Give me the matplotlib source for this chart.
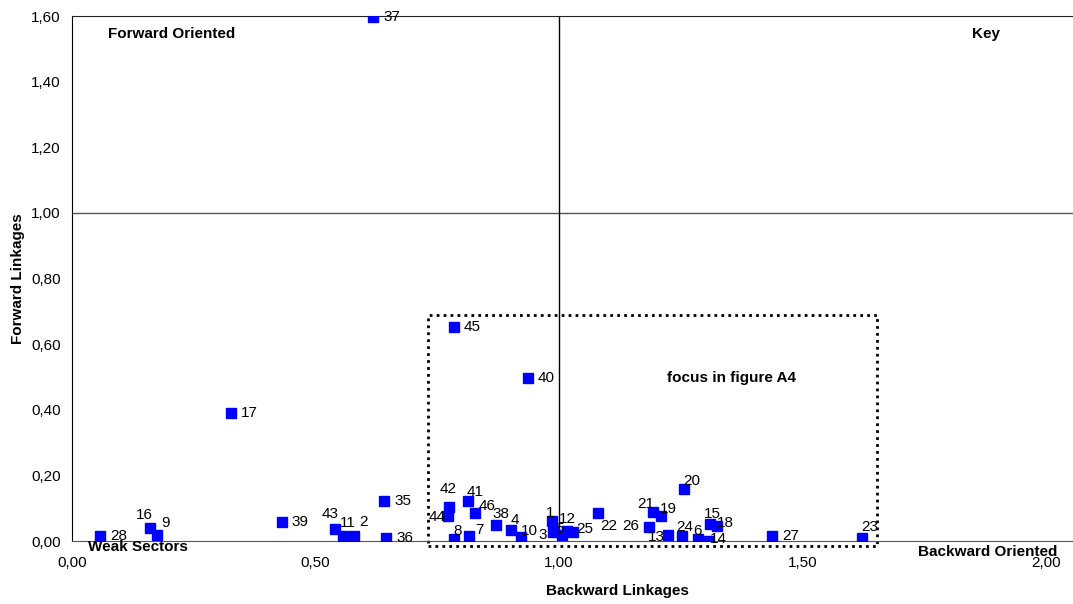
import matplotlib.pyplot as plt
from matplotlib.patches import Rectangle
from matplotlib.ticker import FuncFormatter

plt.rcParams['font.family'] = ['Liberation Sans', 'DejaVu Sans']

# sector numbers and linkage indices
sectors = [37, 17, 45, 40, 20, 35, 39, 28, 16, 9, 43, 11, 2, 36,
           42, 44, 41, 46, 8, 7, 38, 4, 10, 1, 3, 5, 12, 25, 22,
           26, 21, 19, 13, 24, 6, 14, 15, 18, 27, 23]
backward = [0.618, 0.326, 0.784, 0.936, 1.257, 0.641, 0.431, 0.057, 0.160, 0.175,
            0.540, 0.556, 0.579, 0.645, 0.774, 0.772, 0.812, 0.828, 0.785, 0.816,
            0.871, 0.901, 0.922, 0.985, 0.987, 1.006, 1.016, 1.029, 1.079, 1.185,
            1.192, 1.209, 1.224, 1.253, 1.285, 1.305, 1.310, 1.325, 1.438, 1.622]
forward = [1.598, 0.390, 0.652, 0.497, 0.160, 0.122, 0.058, 0.015, 0.040, 0.018,
           0.037, 0.015, 0.015, 0.009, 0.104, 0.076, 0.123, 0.084, 0.007, 0.015,
           0.049, 0.034, 0.011, 0.062, 0.027, 0.018, 0.030, 0.027, 0.084, 0.042,
           0.089, 0.076, 0.018, 0.016, 0.006, 0.001, 0.051, 0.046, 0.016, 0.010]

# label centre offsets in pixels (x right, y down); others go to the right
label_shift = {16: (-6, -13), 9: (8, -12), 43: (-5, -15), 11: (5, -13), 2: (9, -14),
               42: (-1, -18), 44: (-11, 1), 41: (8, -9), 46: (12, -7), 8: (3, -8),
               7: (10, -6), 38: (5, -11), 4: (4, -10), 10: (8, -6), 1: (-2, -8),
               3: (-10, 3), 5: (-2, -6), 12: (0, -12), 25: (12, -3), 22: (11, 13),
               26: (-18, -1), 21: (-7, -8), 19: (7, -7), 20: (7, -8), 13: (-12, 2),
               24: (2, -9), 6: (0, -8), 14: (11, -2), 15: (2, -10), 18: (8, -3),
               23: (8, -11)}

fig = plt.figure(figsize=(10.73, 6.04), dpi=100)
ax = fig.add_axes([0.0671, 0.1043, 0.9329, 0.8692])

ax.plot(backward, forward, 's', color='#0000ff', markersize=7.5, zorder=5)

px = 0.72  # pixels -> points at 100 dpi
for s, x, y in zip(sectors, backward, forward):
    if s in label_shift:
        dx, dy = label_shift[s]
        ax.annotate(str(s), (x, y), xytext=(dx * px, -dy * px), textcoords='offset points',
                    ha='center', va='center', fontsize=11, zorder=6)
    else:
        ax.annotate(str(s), (x, y), xytext=(10 * px, 0), textcoords='offset points',
                    ha='left', va='center', fontsize=11, zorder=6)

ax.set_xlim(0, 2.055)
ax.set_ylim(0, 1.6)
ax.axhline(1.0, color='#555555', lw=1, zorder=1)
ax.axvline(1.0, color='black', lw=1, zorder=1)

# dotted focus box
ax.add_patch(Rectangle((0.731, -0.015), 0.922, 0.704, fill=False, ls=(0, (1, 1.5)),
                       lw=2, ec='black', clip_on=False, zorder=2))

ax.text(0.074, 1.545, 'Forward Oriented', fontsize=11, fontweight='bold', va='center')
ax.text(1.906, 1.545, 'Key', fontsize=11, fontweight='bold', va='center', ha='right')
ax.text(0.033, -0.018, 'Weak Sectors', fontsize=11, fontweight='bold', va='center',
        clip_on=False)
ax.text(2.022, -0.034, 'Backward Oriented', fontsize=11, fontweight='bold', va='center',
        ha='right', clip_on=False)
ax.text(1.353, 0.497, 'focus in figure A4', fontsize=11, fontweight='bold',
        va='center', ha='center')

ax.set_xticks([0, 0.5, 1.0, 1.5, 2.0])
ax.set_yticks([0, 0.2, 0.4, 0.6, 0.8, 1.0, 1.2, 1.4, 1.6])
fmt = FuncFormatter(lambda v, p: f'{v:.2f}'.replace('.', ','))
ax.xaxis.set_major_formatter(fmt)
ax.yaxis.set_major_formatter(fmt)
ax.tick_params(axis='x', length=0, pad=11, labelsize=11)
ax.tick_params(axis='y', length=0, pad=8, labelsize=11)

ax.spines['right'].set_visible(False)
ax.spines['bottom'].set_color('#555555')
ax.spines['top'].set_color('#222222')
ax.spines['left'].set_color('black')

ax.set_xlabel('Backward Linkages', fontsize=11, fontweight='bold')
ax.set_ylabel('Forward Linkages', fontsize=11, fontweight='bold')
ax.xaxis.set_label_coords(0.545, -0.082)
ax.yaxis.set_label_coords(-0.047, 0.5)

fig.savefig('out.png', dpi=100)
